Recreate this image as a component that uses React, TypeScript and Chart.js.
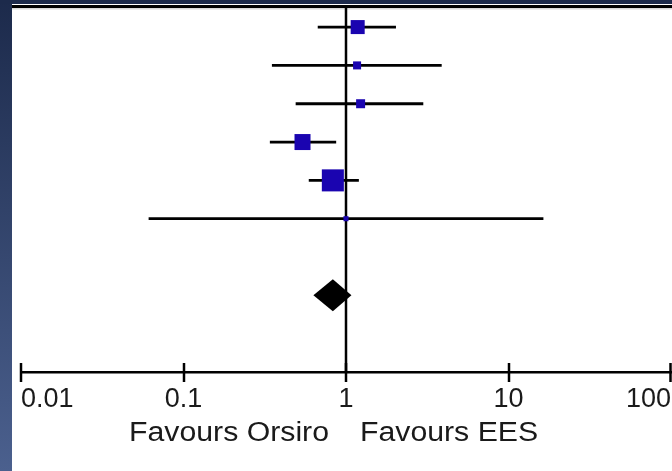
import React, { useEffect, useRef } from 'react';
import { Chart, registerables } from 'chart.js';

Chart.register(...registerables);

// Per-study hazard ratios with 95% confidence intervals
const estimates = [1.18, 1.17, 1.23, 0.54, 0.83, 1.0];
const lowerCI = [0.67, 0.35, 0.49, 0.34, 0.59, 0.061];
const upperCI = [2.03, 3.88, 2.99, 0.87, 1.2, 16.4];
// Relative study weights (%), shown as the area of each square
const weights = [17.7, 5.8, 7.3, 23.1, 43.8, 2.3];
// Pooled estimate: lower CI, point estimate, upper CI
const pooled = [0.63, 0.83, 1.08];

const tickValues = [0.01, 0.1, 1, 10, 100];
const tickLabels = ['0.01', '0.1', '1', '10', '100'];
const leftCaption = 'Favours Orsiro';
const rightCaption = 'Favours EES';

const FONT = '"Liberation Sans", Arial, Helvetica, sans-serif';
const SQUARE_BLUE = '#1a04b0';

const pooledRow = estimates.length + 1;
const yTop = -0.55;
const yBottom = pooledRow + 2;

// square side in px grows with the square root of the weight
const squareSide = (w: number) => 33.3 * Math.sqrt(w / 100);

const backdrop = {
  id: 'backdrop',
  beforeDraw(chart: Chart) {
    const { ctx, width, height } = chart;
    ctx.save();
    ctx.fillStyle = '#ffffff';
    ctx.fillRect(0, 0, width, height);
    const g = ctx.createLinearGradient(0, 0, 0, height);
    g.addColorStop(0, '#1c2a4b');
    g.addColorStop(1, '#4b608e');
    ctx.fillStyle = g;
    ctx.fillRect(0, 0, 12, height);
    ctx.fillStyle = '#1c2a4b';
    ctx.fillRect(0, 0, width, 4);
    ctx.fillStyle = '#000000';
    ctx.fillRect(12, 5, width - 12, 3);
    ctx.fillStyle = '#d8d8d8';
    ctx.fillRect(12, 8, width - 12, 1.5);
    ctx.restore();
  },
};

const forestExtras = {
  id: 'forestExtras',
  afterDraw(chart: Chart) {
    const { ctx, chartArea } = chart;
    const xs = chart.scales.x;
    const ys = chart.scales.y;
    ctx.save();

    // axis tick marks crossing the axis line
    ctx.strokeStyle = '#000';
    ctx.lineWidth = 2.5;
    tickValues.forEach((v) => {
      const px = Math.min(Math.round(xs.getPixelForValue(v)), chart.width - 1.5);
      ctx.beginPath();
      ctx.moveTo(px, chartArea.bottom - 9);
      ctx.lineTo(px, chartArea.bottom + 10);
      ctx.stroke();
    });

    // pooled diamond
    const [lo, est, hi] = pooled;
    const yc = ys.getPixelForValue(pooledRow);
    const half = 16;
    ctx.fillStyle = '#000';
    ctx.beginPath();
    ctx.moveTo(xs.getPixelForValue(lo), yc);
    ctx.lineTo(xs.getPixelForValue(est), yc - half);
    ctx.lineTo(xs.getPixelForValue(hi), yc);
    ctx.lineTo(xs.getPixelForValue(est), yc + half);
    ctx.closePath();
    ctx.fill();

    // captions either side of the line of no effect
    const x1 = xs.getPixelForValue(1);
    ctx.fillStyle = '#1a1a1a';
    ctx.font = `27px ${FONT}`;
    ctx.textBaseline = 'alphabetic';
    ctx.save();
    ctx.translate(x1 - 17, 441);
    ctx.scale(1.12, 1);
    ctx.textAlign = 'right';
    ctx.fillText(leftCaption, 0, 0);
    ctx.restore();
    ctx.save();
    ctx.translate(x1 + 14, 441);
    ctx.scale(1.12, 1);
    ctx.textAlign = 'left';
    ctx.fillText(rightCaption, 0, 0);
    ctx.restore();

    ctx.restore();
  },
};

export default function App() {
  const canvasRef = useRef<HTMLCanvasElement | null>(null);

  useEffect(() => {
    const canvas = canvasRef.current;
    if (!canvas) return;

    const squares = {
      label: 'studies',
      data: estimates.map((v, i) => ({ x: v, y: i })),
      pointStyle: 'rect',
      pointRadius: weights.map((w) => squareSide(w) / Math.SQRT2),
      pointHoverRadius: weights.map((w) => squareSide(w) / Math.SQRT2),
      backgroundColor: SQUARE_BLUE,
      borderColor: SQUARE_BLUE,
      borderWidth: 0,
      order: 0,
    };

    const ciLines = estimates.map((_, i) => ({
      label: `ci${i}`,
      data: [
        { x: lowerCI[i], y: i },
        { x: upperCI[i], y: i },
      ],
      showLine: true,
      borderColor: '#000',
      borderWidth: 2.8,
      pointRadius: 0,
      order: 2,
    }));

    const noEffect = {
      label: 'no effect',
      data: [
        { x: 1, y: yTop },
        { x: 1, y: yBottom },
      ],
      showLine: true,
      borderColor: '#000',
      borderWidth: 2.5,
      pointRadius: 0,
      order: 1,
    };

    const chart = new Chart(canvas, {
      type: 'scatter',
      data: { datasets: [squares, noEffect, ...ciLines] as any },
      plugins: [backdrop, forestExtras],
      options: {
        animation: false,
        responsive: false,
        devicePixelRatio: 1,
        layout: { autoPadding: false, padding: { left: 21, right: 1, top: 6, bottom: 0 } },
        plugins: { legend: { display: false }, tooltip: { enabled: false } },
        scales: {
          x: {
            type: 'logarithmic',
            min: 0.01,
            max: 100,
            grid: { display: false },
            border: { display: true, color: '#000', width: 2.5 },
            afterBuildTicks: (scale: any) => {
              scale.ticks = tickValues.map((v) => ({ value: v }));
            },
            afterFit: (scale: any) => {
              scale.height = 99;
              scale.paddingLeft = 0;
              scale.paddingRight = 0;
            },
            ticks: {
              align: 'inner',
              padding: 3,
              maxRotation: 0,
              autoSkip: false,
              color: '#1a1a1a',
              font: { family: FONT, size: 27 },
              callback: (_v: any, idx: number) => tickLabels[idx],
            },
          },
          y: {
            type: 'linear',
            min: yTop,
            max: yBottom,
            reverse: true,
            display: false,
          },
        },
      } as any,
    });

    return () => chart.destroy();
  }, []);

  return (
    <div style={{ position: 'fixed', left: 0, top: 0, width: 672, height: 471 }}>
      <canvas ref={canvasRef} width={672} height={471} style={{ display: 'block' }} />
    </div>
  );
}
